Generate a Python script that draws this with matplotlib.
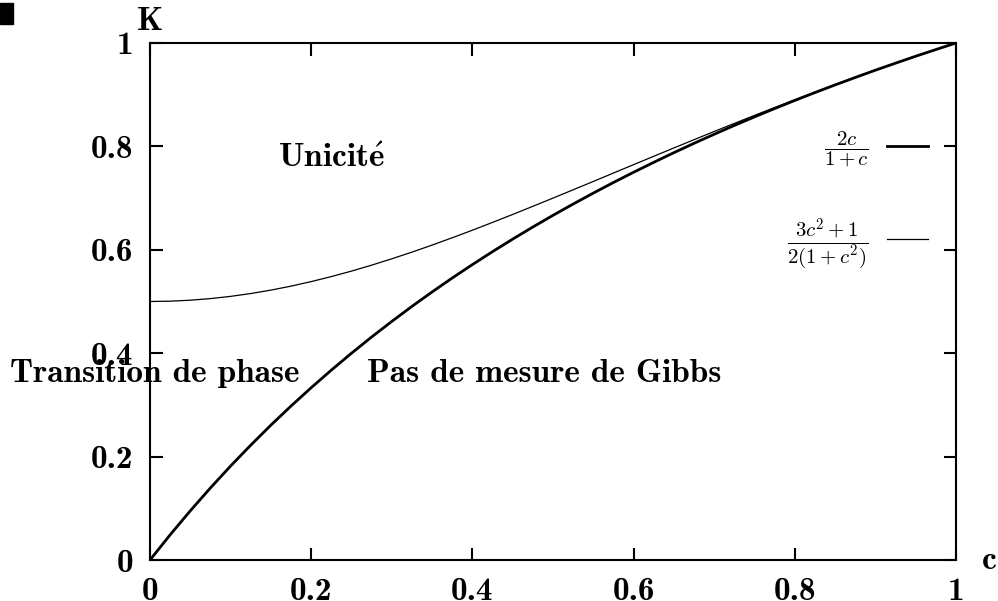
import matplotlib
matplotlib.use("Agg")
from matplotlib import pyplot as plt
from matplotlib.patches import Rectangle

plt.rcParams['mathtext.fontset'] = 'cm'
BOLD = ['cmb10', 'DejaVu Serif']
FS = 24

# c values and the two curves
c = [0.0, 0.025, 0.05, 0.075, 0.1, 0.125, 0.15, 0.175, 0.2, 0.225, 0.25, 0.275, 0.3, 0.325,
     0.35, 0.375, 0.4, 0.425, 0.45, 0.475, 0.5, 0.525, 0.55, 0.575, 0.6, 0.625, 0.65, 0.675,
     0.7, 0.725, 0.75, 0.775, 0.8, 0.825, 0.85, 0.875, 0.9, 0.925, 0.95, 0.975, 1.0]
k_gibbs = [0.0, 0.0488, 0.0952, 0.1395, 0.1818, 0.2222, 0.2609, 0.2979, 0.3333, 0.3673,
           0.4, 0.4314, 0.4615, 0.4906, 0.5185, 0.5455, 0.5714, 0.5965, 0.6207, 0.6441,
           0.6667, 0.6885, 0.7097, 0.7302, 0.75, 0.7692, 0.7879, 0.806, 0.8235, 0.8406,
           0.8571, 0.8732, 0.8889, 0.9041, 0.9189, 0.9333, 0.9474, 0.961, 0.9744, 0.9873, 1.0]
k_unic = [0.5, 0.5006, 0.5025, 0.5056, 0.5099, 0.5154, 0.522, 0.5297, 0.5385, 0.5482,
          0.5588, 0.5703, 0.5826, 0.5955, 0.6091, 0.6233, 0.6379, 0.653, 0.6684, 0.6841,
          0.7, 0.7161, 0.7322, 0.7485, 0.7647, 0.7809, 0.797, 0.813, 0.8289, 0.8445,
          0.86, 0.8752, 0.8902, 0.905, 0.9195, 0.9336, 0.9475, 0.9611, 0.9744, 0.9873, 1.0]
ticks = [0, 0.2, 0.4, 0.6, 0.8, 1]
tick_labels = ['0', '0.2', '0.4', '0.6', '0.8', '1']

fig = plt.figure(figsize=(9.98, 6.01), dpi=100)
ax = fig.add_axes([0.1503, 0.0682, 0.8077, 0.8603])

ax.plot(c, k_gibbs, color='black', lw=2.0, label=r'$\dfrac{2c}{1+c}$')
ax.plot(c, k_unic, color='black', lw=0.9, label=r'$\dfrac{3c^2+1}{2(1+c^2)}$')

ax.set_xlim(0, 1)
ax.set_ylim(0, 1)
ax.set_xticks(ticks)
ax.set_yticks(ticks)
ax.set_xticklabels(tick_labels, family=BOLD, weight='bold', fontsize=FS)
ax.set_yticklabels(tick_labels, family=BOLD, weight='bold', fontsize=FS)
ax.tick_params(direction='in', length=9, width=1.5, top=True, right=True, pad=12)
ax.tick_params(axis='x', pad=12)
for s in ax.spines.values():
    s.set_linewidth(1.5)

ax.set_ylabel('K', rotation=0, family=BOLD, weight='bold', fontsize=FS, ha='center', va='center')
ax.yaxis.set_label_coords(0.0, 1.041)
ax.set_xlabel('c', family=BOLD, weight='bold', fontsize=FS, ha='center', va='center')
ax.xaxis.set_label_coords(1.041, 0.0)

ax.text(0.225, 0.76, r'$\mathbf{Unicit\acute{e}}$', fontsize=FS, ha='center', va='baseline')
ax.text(-0.174, 0.344, 'Transition de phase', family=BOLD, weight='bold', fontsize=FS,
        ha='left', va='baseline')
ax.text(0.269, 0.344, 'Pas de mesure de Gibbs', family=BOLD, weight='bold', fontsize=FS,
        ha='left', va='baseline')

ax.legend(loc='upper right', bbox_to_anchor=(0.965, 0.832), frameon=False,
          markerfirst=False, fontsize=15, handlelength=1.97, handletextpad=0.87,
          labelspacing=2.26, borderaxespad=0, borderpad=0)

fig.patches.append(Rectangle((0, 1 - 24 / 601), 13 / 998, 21 / 601,
                             transform=fig.transFigure, color='black'))

fig.savefig('out.png', dpi=100)
